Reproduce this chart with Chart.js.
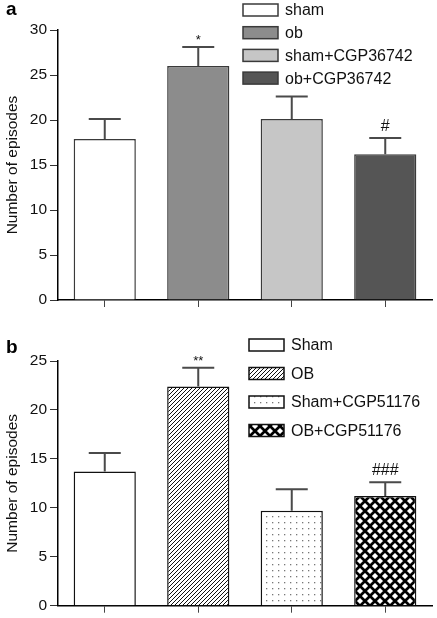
<!DOCTYPE html>
<html>
<head>
<meta charset="utf-8">
<script src="https://cdn.jsdelivr.net/npm/chart.js@4.4.0/dist/chart.umd.min.js"></script>
<style>
  body { margin: 0; background: #fff; }
  #wrap { position: relative; width: 437px; height: 618px; }
  .panel { position: absolute; left: 0; width: 437px; }
</style>
</head>
<body>
<div id="wrap">
  <div class="panel" style="top:0;height:316px"><canvas id="chartA"></canvas></div>
  <div class="panel" style="top:316px;height:302px"><canvas id="chartB"></canvas></div>
</div>
<script>
// panel a
const categoriesA = ['sham', 'ob', 'sham+CGP36742', 'ob+CGP36742'];
const meansA = [17.9, 26.0, 20.1, 16.2];
const errorsA = [2.2, 2.1, 2.5, 1.8];
const marksA = ['', '*', '', '#'];
const maxA = 30;

// panel b
const categoriesB = ['Sham', 'OB', 'Sham+CGP51176', 'OB+CGP51176'];
const meansB = [13.7, 22.4, 9.7, 11.2];
const errorsB = [1.9, 1.9, 2.2, 1.4];
const marksB = ['', '**', '', '###'];
const maxB = 25;

const tickStep = 5;
const yTitle = 'Number of episodes';

Chart.defaults.font.family = 'Liberation Sans, Arial, sans-serif';
Chart.defaults.font.size = 15.5;
Chart.defaults.color = '#111';

function makeTile(size, draw) {
    var c = document.createElement('canvas');
    c.width = size; c.height = size;
    var t = c.getContext('2d');
    t.fillStyle = '#fff';
    t.fillRect(0, 0, size, size);
    draw(t, size);
    return document.createElement('canvas').getContext('2d').createPattern(c, 'repeat');
}

var hatch = makeTile(4, function (t, s) {
    t.strokeStyle = '#111';
    t.lineWidth = 1;
    t.beginPath();
    t.moveTo(-1, s + 1); t.lineTo(s + 1, -1);
    t.moveTo(-1, 1); t.lineTo(1, -1);
    t.moveTo(s - 1, s + 1); t.lineTo(s + 1, s - 1);
    t.stroke();
});

var dots = makeTile(6, function (t) {
    t.fillStyle = '#777';
    t.fillRect(2, 2, 1.3, 1.3);
});

var cross = makeTile(10, function (t, s) {
    t.strokeStyle = '#000';
    t.lineWidth = 2.7;
    t.beginPath();
    t.moveTo(-2, -2); t.lineTo(s + 2, s + 2);
    t.moveTo(-2, s + 2); t.lineTo(s + 2, -2);
    t.stroke();
});

const errorBars = {
    id: 'errorBars',
    afterDatasetsDraw(chart, args, opts) {
        const ctx = chart.ctx;
        const y = chart.scales.y;
        const meta = chart.getDatasetMeta(0);
        ctx.save();
        ctx.strokeStyle = opts.color;
        ctx.lineWidth = 2;
        meta.data.forEach(function (bar, i) {
            const top = y.getPixelForValue(opts.means[i] + opts.errors[i]);
            ctx.beginPath();
            ctx.moveTo(bar.x, bar.y);
            ctx.lineTo(bar.x, top);
            ctx.moveTo(bar.x - 16, top);
            ctx.lineTo(bar.x + 16, top);
            ctx.stroke();
            const mark = opts.marks[i];
            if (mark) {
                ctx.fillStyle = '#111';
                ctx.textAlign = 'center';
                ctx.textBaseline = 'alphabetic';
                if (mark[0] === '*') {
                    ctx.font = '13px Liberation Sans';
                    ctx.fillText(mark, bar.x, top - 3);
                } else {
                    ctx.font = '16px Liberation Sans';
                    ctx.fillText(mark, bar.x, top - 7);
                }
            }
        });
        ctx.restore();
    }
};

const boxLegend = {
    id: 'boxLegend',
    afterDraw(chart, args, opts) {
        const ctx = chart.ctx;
        const ds = chart.data.datasets[0];
        ctx.save();
        ctx.font = 'bold 19px Liberation Sans';
        ctx.fillStyle = '#000';
        ctx.textAlign = 'left';
        ctx.textBaseline = 'alphabetic';
        ctx.fillText(opts.letter, 6, opts.letterY);
        ctx.font = '16px Liberation Sans';
        ctx.textBaseline = 'middle';
        chart.data.labels.forEach(function (lab, i) {
            const cy = opts.y0 + i * opts.step;
            ctx.fillStyle = ds.backgroundColor[i];
            ctx.fillRect(opts.x, cy - 6, 35, 12);
            ctx.strokeStyle = ds.borderColor;
            ctx.lineWidth = 1.5;
            ctx.strokeRect(opts.x, cy - 6, 35, 12);
            ctx.fillStyle = '#111';
            ctx.fillText(lab, opts.x + 42, cy + 1);
        });
        ctx.restore();
    }
};

function buildChart(id, labels, means, errors, marks, yMax, colors, border, padTop, xHeight, legendOpts) {
    return new Chart(document.getElementById(id), {
        type: 'bar',
        data: {
            labels: labels,
            datasets: [{
                data: means,
                backgroundColor: colors,
                borderColor: border,
                borderWidth: 1.5,
                barPercentage: 0.665,
                categoryPercentage: 1
            }]
        },
        options: {
            responsive: true,
            maintainAspectRatio: false,
            animation: false,
            layout: { padding: { top: padTop, right: 5, left: 0, bottom: 0 } },
            scales: {
                x: {
                    grid: { offset: false, drawOnChartArea: false, tickLength: 7, color: '#444', lineWidth: 1 },
                    border: { color: '#000', width: 1.5 },
                    ticks: { display: false },
                    afterFit: function (s) { s.height = xHeight; }
                },
                y: {
                    min: 0,
                    max: yMax,
                    ticks: { stepSize: tickStep, padding: 3, color: '#111', font: { size: 15.5 } },
                    grid: { drawOnChartArea: false, tickLength: 8, color: '#333', lineWidth: 1 },
                    border: { color: '#000', width: 1.5 },
                    title: { display: true, text: yTitle, padding: { top: 3, bottom: 0 }, color: '#111' },
                    afterFit: function (s) { s.width = 58; }
                }
            },
            plugins: {
                legend: { display: false },
                tooltip: { enabled: false },
                errorBars: { means: means, errors: errors, marks: marks, color: '#4a4a4a' },
                boxLegend: legendOpts
            }
        },
        plugins: [errorBars, boxLegend]
    });
}

buildChart('chartA', categoriesA, meansA, errorsA, marksA, maxA,
    ['#ffffff', '#8c8c8c', '#c6c6c6', '#555555'], '#3a3a3a', 30, 16,
    { letter: 'a', letterY: 15, x: 243, y0: 10, step: 22.7 });

buildChart('chartB', categoriesB, meansB, errorsB, marksB, maxB,
    ['#ffffff', hatch, dots, cross], '#111', 45, 7,
    { letter: 'b', letterY: 37, x: 249, y0: 29, step: 28.5 });
</script>
</body>
</html>
